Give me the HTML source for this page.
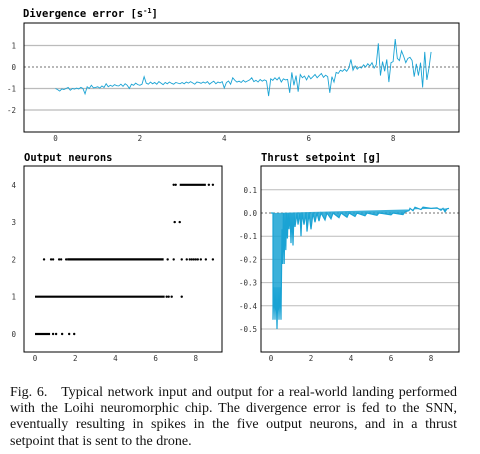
<!DOCTYPE html>
<html><head><meta charset="utf-8"><style>
body{margin:0;background:#fff;width:480px;height:454px;overflow:hidden;position:relative}
svg{position:absolute;left:0;top:0}
#cap{position:absolute;left:10px;top:385px;width:447px;font-family:"Liberation Serif",serif;font-size:14px;line-height:16.2px;color:#111}
#cap div{text-align:justify;text-align-last:justify;white-space:nowrap}
#cap div.last{text-align-last:left}
</style></head><body>
<svg id="chart" width="480" height="380"></svg>
<div id="cap">
<div>Fig. 6.&nbsp;&nbsp; Typical network input and output for a real-world landing performed</div>
<div>with the Loihi neuromorphic chip. The divergence error is fed to the SNN,</div>
<div>eventually resulting in spikes in the five output neurons, and in a thrust</div>
<div class="last">setpoint that is sent to the drone.</div>
</div>
<script>
const divDt = 0.05;
const divergence = [
-1.0,-1.05,-1.12,-1.02,-1.05,-1.0,-0.95,-1.08,-1.0,-1.03,
-0.98,-1.02,-0.95,-1.0,-1.25,-0.92,-1.0,-0.85,-0.97,-0.95,
-0.92,-0.98,-0.88,-0.95,-0.78,-0.92,-0.85,-0.9,-0.82,-0.87,
-0.88,-0.8,-0.9,-0.78,-0.85,-1.0,-0.8,-0.85,-0.75,-0.82,
-0.85,-0.8,-0.45,-0.75,-0.8,-0.7,-0.78,-0.72,-0.8,-0.68,
-0.75,-0.82,-0.72,-0.78,-0.7,-0.76,-0.8,-0.72,-0.75,-0.78,
-0.72,-0.78,-0.7,-0.75,-0.68,-0.74,-0.8,-0.7,-0.72,-0.76,
-0.7,-0.75,-0.68,-0.8,-0.72,-0.66,-0.78,-0.7,-0.74,-0.68,
-0.98,-0.72,-0.65,-0.8,-0.5,-0.62,-0.7,-0.66,-0.72,-0.62,
-0.7,-0.65,-0.6,-0.5,-0.68,-0.62,-0.7,-0.58,-0.66,-0.6,
-0.65,-1.35,-0.55,-0.62,-0.5,-0.6,-0.48,-0.7,-0.55,-0.6,
-0.58,-1.2,-0.25,-0.85,-0.4,-1.15,-0.35,-0.5,-0.42,-0.6,
-0.4,-0.55,-0.45,-0.35,-0.5,-0.4,-0.3,-0.48,-0.38,-0.45,
-1.2,-0.45,-0.7,-0.25,-0.3,-0.15,-0.2,-0.1,-0.2,-0.05,
0.35,-0.15,0.05,-0.1,0.0,-0.05,0.1,0.0,0.15,0.05,
0.2,-0.05,0.1,1.1,-0.4,0.25,-0.2,0.35,-0.7,0.2,
0.25,1.3,0.4,0.3,0.75,0.5,0.2,0.4,0.45,0.3,
-0.45,0.15,-0.4,0.2,-0.95,0.7,-0.6,-0.05,0.7];
const divYTicks = [1,0,-1,-2];
const xTicks = [0,2,4,6,8];
const neuronIds = [0,1,2,3,4];
const neuronBursts = [[[0,0.75]],[[0,6.45]],[[1.6,6.4]],[],[[7.2,8.5]]];
const neuronSingles = [[0.9,1.05,1.35,1.7,1.95],[6.55,6.65,6.8,7.3],[0.45,0.8,0.9,1.2,1.3,1.55,6.6,6.9,7.3,7.55,7.7,7.8,7.9,8.0,8.1,8.25,8.5,8.85],[6.95,7.2],[6.9,7.0,8.65,8.85]];
const thrustT = [0,0.1,0.1,0.15,0.2,0.25,0.3,0.35,0.4,0.45,0.5,0.55,0.58,0.62,0.66,0.7,0.74,0.78,0.82,0.86,0.9,0.95,1.0,1.05,1.1,1.15,1.2,1.3,1.35,1.45,1.5,1.55,1.65,1.75,1.8,1.9,2.0,2.1,2.2,2.3,2.4,2.5,2.7,2.8,3.0,3.1,3.4,3.5,3.8,3.9,4.2,4.3,4.7,4.8,5.3,5.4,6.0,6.1,6.6,6.7,6.9,6.95,7.1,7.2,7.5,7.6,8.0,8.3,8.5,8.6,8.7,8.8,8.9];
const thrustV = [0,0,-0.46,-0.32,-0.46,-0.32,-0.5,-0.32,-0.46,-0.32,-0.46,-0.07,-0.22,0,-0.22,0,-0.16,0,-0.11,0,-0.07,0,-0.13,0,-0.14,0,-0.06,0,-0.05,0,-0.1,0,-0.05,0,-0.08,0,-0.07,0,-0.04,0,-0.035,0,-0.03,0,-0.025,0,-0.02,0,-0.018,0,-0.015,0,-0.012,0,-0.01,0,-0.008,0,-0.007,0.005,0.01,0.02,0.01,0.025,0.015,0.025,0.02,0.022,0.012,0.02,0.005,0.018,0.02];
const thrustYTicks = [0.1,0.0,-0.1,-0.2,-0.3,-0.4,-0.5];

const NS='http://www.w3.org/2000/svg';
const svg=document.getElementById('chart');
function el(tag,attrs,parent){const e=document.createElementNS(NS,tag);for(const k in attrs)e.setAttribute(k,attrs[k]);(parent||svg).appendChild(e);return e;}
const BLUE='#1aa3d4';
const MONO='"DejaVu Sans Mono","Liberation Mono",monospace';

const tx=v=>55.5+v*42.2, ty=v=>67-v*21.5;
let g=el('g',{});


let t=el('text',{x:23,y:17,'font-family':MONO,'font-size':10.5,'font-weight':'bold'},g);
t.textContent='Divergence error [s';
let sup=el('tspan',{dy:-4,'font-size':7},t);sup.textContent='-1';
let tc=el('tspan',{dy:4},t);tc.textContent=']';


divYTicks.forEach(v=>{
  const y=ty(v);
  if(v===0){const l=el('line',{x1:24,x2:459,y1:y,y2:y,stroke:'#444','stroke-width':0.7,'stroke-dasharray':'2,2'},g);}
  else{const l=el('line',{x1:24,x2:459,y1:y,y2:y,stroke:'#bbb','stroke-width':1.3},g);}
  const lb=el('text',{x:16,y:y+3,'font-family':MONO,'font-size':7.5,'text-anchor':'end',fill:'#333'},g);lb.textContent=v;
  
});
xTicks.forEach(v=>{const lb=el('text',{x:tx(v),y:141,'font-family':MONO,'font-size':7.5,'text-anchor':'middle',fill:'#333'},g);lb.textContent=v;});
let pl=el('polyline',{points:divergence.map((v,i)=>tx(i*divDt)+','+ty(v)).join(' '),fill:'none',stroke:BLUE,'stroke-width':0.9},g);

let fr=el('rect',{x:24,y:23,width:435,height:109,fill:'none',stroke:'#000','stroke-width':1},g);


const nx=v=>35+v*20.1, ny=v=>334-v*37.3;
g=el('g',{});


t=el('text',{x:24,y:161,'font-family':MONO,'font-size':10.5,'font-weight':'bold'},g);t.textContent='Output neurons';

neuronIds.forEach(n=>{const lb=el('text',{x:16,y:ny(n)+3,'font-family':MONO,'font-size':7.5,'text-anchor':'end',fill:'#333'},g);lb.textContent=n;});
xTicks.forEach(v=>{const lb=el('text',{x:nx(v),y:361,'font-family':MONO,'font-size':7.5,'text-anchor':'middle',fill:'#333'},g);lb.textContent=v;});
neuronIds.forEach(n=>{
  neuronBursts[n].forEach(b=>{const l=el('line',{x1:nx(b[0]),x2:nx(b[1]),y1:ny(n),y2:ny(n),stroke:'#000','stroke-width':2.2},g);});
  neuronSingles[n].forEach(s=>{const c=el('circle',{cx:nx(s),cy:ny(n),r:1.2,fill:'#000'},g);});
});
fr=el('rect',{x:24,y:166,width:198,height:186,fill:'none',stroke:'#000','stroke-width':1},g);


const hx=v=>271+v*20, hy=v=>213-v*232;
g=el('g',{});


t=el('text',{x:261,y:161,'font-family':MONO,'font-size':10.5,'font-weight':'bold'},g);t.textContent='Thrust setpoint [g]';

thrustYTicks.forEach(v=>{
  const y=hy(v);
  if(v===0){const l=el('line',{x1:261,x2:459,y1:y,y2:y,stroke:'#444','stroke-width':0.7,'stroke-dasharray':'2,2'},g);}
  else{const l=el('line',{x1:261,x2:459,y1:y,y2:y,stroke:'#bbb','stroke-width':1},g);}
  const lb=el('text',{x:257,y:y+3,'font-family':MONO,'font-size':7.5,'text-anchor':'end',fill:'#333'},g);lb.textContent=v.toFixed(1);
  
});
xTicks.forEach(v=>{const lb=el('text',{x:hx(v),y:361,'font-family':MONO,'font-size':7.5,'text-anchor':'middle',fill:'#333'},g);lb.textContent=v;});
pl=el('polyline',{points:thrustT.map((x,i)=>hx(x)+','+hy(thrustV[i])).join(' '),fill:BLUE,'fill-opacity':0.85,stroke:BLUE,'stroke-width':1.2},g);

fr=el('rect',{x:261,y:166,width:198,height:186,fill:'none',stroke:'#000','stroke-width':1},g);

</script>
</body></html>
